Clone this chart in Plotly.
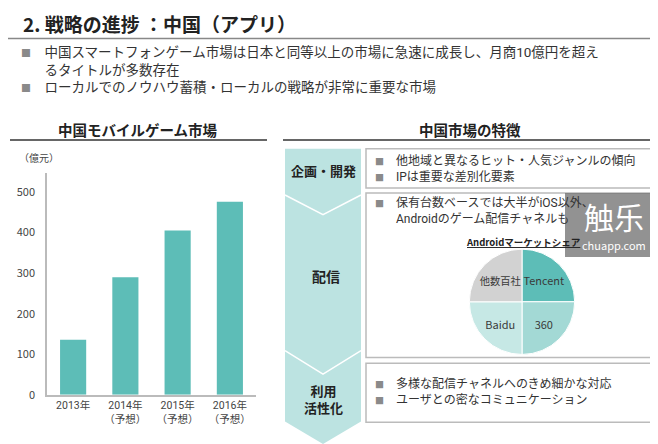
import plotly.graph_objects as go

# ---- data ----
years = ["2013年", "2014年<br>（予想）", "2015年<br>（予想）", "2016年<br>（予想）"]
market_size = [136, 290, 405, 476]          # 億元
share_labels = ["Tencent", "360", "Baidu", "他数百社"]
share_values = [25, 25, 25, 25]
share_colors = ["#5DBDB7", "#A3D9D5", "#C6E8E5", "#D2D2D2"]

W, H = 658, 444
FONT = "Noto Sans CJK JP, Noto Sans, sans-serif"
FONT_ML = "Roboto, Noto Sans CJK JP, sans-serif"   # tighter line metrics for multi-line blocks
TXT = "#333333"

def px(x):
    return x / W

def py(y):
    return 1 - y / H

fig = go.Figure()

fig.add_trace(go.Bar(
    x=years, y=market_size, marker=dict(color="#5DBDB7", line=dict(width=0)),
    xaxis="x", yaxis="y", showlegend=False, hoverinfo="skip"))

fig.add_trace(go.Pie(
    labels=share_labels, values=share_values, sort=False, direction="clockwise",
    rotation=0, marker=dict(colors=share_colors, line=dict(color="white", width=1)),
    textinfo="label", textposition="inside", insidetextorientation="horizontal",
    textfont=dict(size=11, color="#3a3a3a", family=FONT),
    domain=dict(x=[px(460), px(568)], y=[py(352), py(245)]),
    showlegend=False, hoverinfo="skip"))

fig.update_layout(
    width=W, height=H, margin=dict(l=0, r=0, t=0, b=0),
    paper_bgcolor="white", plot_bgcolor="white",
    font=dict(family=FONT, color=TXT),
    bargap=0.5,
    xaxis=dict(domain=[px(39), px(248)], showgrid=False, showline=True,
               linecolor="#BBBBBB", linewidth=1.5, ticks="",
               tickfont=dict(size=10.5, color="#444444", family=FONT_ML), fixedrange=True),
    yaxis=dict(domain=[py(393), py(168)], range=[0, 546], showgrid=False,
               showline=True, linecolor="#BBBBBB", linewidth=1.5, ticks="",
               tickvals=[0, 100, 200, 300, 400, 500], ticklabelstandoff=8,
               tickfont=dict(size=11, color="#444444"), zeroline=False),
)

shapes = []
ann = []

def line(x0, y0, x1, y1, color="#777777", width=2):
    shapes.append(dict(type="line", xref="paper", yref="paper",
                       x0=px(x0), y0=py(y0), x1=px(x1), y1=py(y1),
                       line=dict(color=color, width=width), layer="above"))

def rect(x0, y0, x1, y1, fill="white", color="#BBBBBB", width=1.5, layer="below", opacity=1):
    shapes.append(dict(type="rect", xref="paper", yref="paper",
                       x0=px(x0), y0=py(y0), x1=px(x1), y1=py(y1),
                       fillcolor=fill, line=dict(color=color, width=width),
                       layer=layer, opacity=opacity))

def text(x, y, s, size=13, color=TXT, anchor="left", bold=False, yanchor="middle",
         align="left", family=FONT):
    if bold:
        s = "<b>" + s + "</b>"
    ann.append(dict(x=px(x), y=py(y), xref="paper", yref="paper", text=s,
                    showarrow=False, xanchor=anchor, yanchor=yanchor, align=align,
                    borderpad=0,
                    font=dict(size=size, color=color, family=family)))

def bul(size):
    return f"<span style='color:#8A8A8A;font-size:{size}px'>■</span>　"

def blank(size):
    return f"<span style='color:rgba(0,0,0,0);font-size:{size}px'>■</span>　"

# Title
text(14, 16, "2. 戦略の進捗 ：中国（アプリ）", size=19, bold=True, color="#222222")
line(0, 31, 658, 31, color="#888888", width=1.5)

# Top bullets (one block)
text(12, 62,
     bul(10) + "中国スマートフォンゲーム市場は日本と同等以上の市場に急速に成長し、月商10億円を超え<br>"
     + blank(10) + "るタイトルが多数存在<br>"
     + bul(10) + "ローカルでのノウハウ蓄積・ローカルの戦略が非常に重要な市場", size=13.5, family=FONT_ML)

# Left panel heading
text(130, 123, "中国モバイルゲーム市場", size=14.5, bold=True, anchor="center", color="#222222")
line(2, 134, 259, 134, color="#666666", width=2)
text(10, 152, "（億元）", size=10, color="#444444")

# Right panel heading
text(462, 123, "中国市場の特徴", size=14.5, bold=True, anchor="center", color="#222222")
line(275, 134, 649, 134, color="#666666", width=2)

# Left process band with chevrons
band = "#BCE3E1"
shapes.append(dict(type="path", xref="paper", yref="paper",
                   path=f"M {px(277)},{py(143)} L {px(353)},{py(143)} L {px(353)},{py(420)} "
                        f"L {px(315)},{py(443)} L {px(277)},{py(420)} Z",
                   fillcolor=band, line=dict(width=0), layer="below"))
for (ys, yc) in [(190, 210), (348, 372)]:
    shapes.append(dict(type="path", xref="paper", yref="paper",
                       path=f"M {px(277)},{py(ys)} L {px(315)},{py(yc)} L {px(353)},{py(ys)}",
                       line=dict(color="white", width=1.5), layer="below"))

text(315, 165, "企画・開発", size=13, bold=True, anchor="center", color="#222222")
text(318, 272, "配信", size=14, bold=True, anchor="center", color="#222222")
text(315, 398, "利用<br>活性化", size=13, bold=True, anchor="center", color="#222222",
     align="center", family=FONT_ML)

# Right boxes
rect(358, 143, 649, 183)
rect(358, 188, 649, 355)
rect(358, 361, 649, 421)

text(366, 163, bul(9) + "他地域と異なるヒット・人気ジャンルの傾向<br>"
     + bul(9) + "IPは重要な差別化要素", size=12, family=FONT_ML)

text(366, 206, bul(9) + "保有台数ベースでは大半がiOS以外、<br>"
     + blank(9) + "Androidのゲーム配信チャネルも", size=12, family=FONT_ML)
text(515, 238, "<u>Androidマーケットシェア</u>", size=9.5, bold=True, anchor="center", color="#222222")

text(366, 390, bul(9) + "多様な配信チャネルへのきめ細かな対応<br>"
     + bul(9) + "ユーザとの密なコミュニケーション", size=12, family=FONT_ML)

# Watermark
rect(557, 188, 658, 253, fill="#6E6E6E", color="#6E6E6E", width=0, layer="above", opacity=0.75)
text(606, 211, "触乐", size=30, anchor="center", color="white")
text(606, 241, "chuapp.com", size=11, anchor="center", color="white")

fig.update_layout(shapes=shapes, annotations=ann)
fig.write_html("out.html")
